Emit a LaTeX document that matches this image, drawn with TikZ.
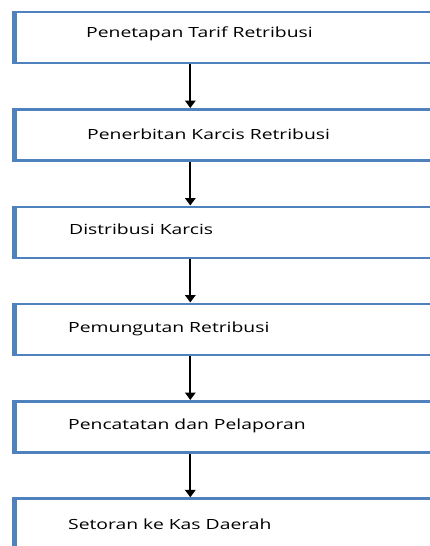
\documentclass[tikz,border=0pt]{standalone}
\usepackage{fontspec}
\setmainfont[FakeStretch=1.38]{Open Sans}
\usetikzlibrary{arrows.meta}
\definecolor{boxblue}{HTML}{4F81BD}
\tikzset{
  stepbox/.style={draw=boxblue, line width=2.6pt, rectangle, inner sep=0pt,
    minimum width=470pt, minimum height=51pt, anchor=north west,
    append after command={\pgfextra{\draw[boxblue, line width=4pt]
      (\tikzlastnode.north west) -- (\tikzlastnode.south west);}}},
  steptext/.style={anchor=west, inner sep=0pt, font=\fontsize{14pt}{16pt}\selectfont, text=black},
  arr/.style={-{Triangle[width=10.5pt,length=7.5pt]}, line width=1.8pt, black}
}
\begin{document}
\begin{tikzpicture}[x=1pt,y=-1pt]
\useasboundingbox (0,0) rectangle (430,546);
\clip (0,0) rectangle (430,546);
\node[stepbox] (b1) at (14.3,10.5) {};
\node[stepbox] (b2) at (14.3,108) {};
\node[stepbox] (b3) at (14.3,205.5) {};
\node[stepbox] (b4) at (14.3,302.5) {};
\node[stepbox] (b5) at (14.3,400) {};
\node[stepbox] (b6) at (14.3,497.3) {};
\node[steptext] (t1) at (86,33.5) {Penetapan Tarif Retribusi};
\node[steptext] (t2) at (87,134.5) {Penerbitan Karcis Retribusi};
\node[steptext] (t3) at (69,229) {Distribusi Karcis};
\node[steptext] (t4) at (68,328.5) {Pemungutan Retribusi};
\node[steptext] (t5) at (68,426) {Pencatatan dan Pelaporan};
\node[steptext] (t6) at (68,524) {Setoran ke Kas Daerah};
\foreach \a/\b in {b1/b2,b2/b3,b3/b4,b4/b5,b5/b6}{
  \draw[arr] ([xshift=176pt]\a.south west) -- ([xshift=176pt]\b.north west);
}
\end{tikzpicture}
\end{document}
